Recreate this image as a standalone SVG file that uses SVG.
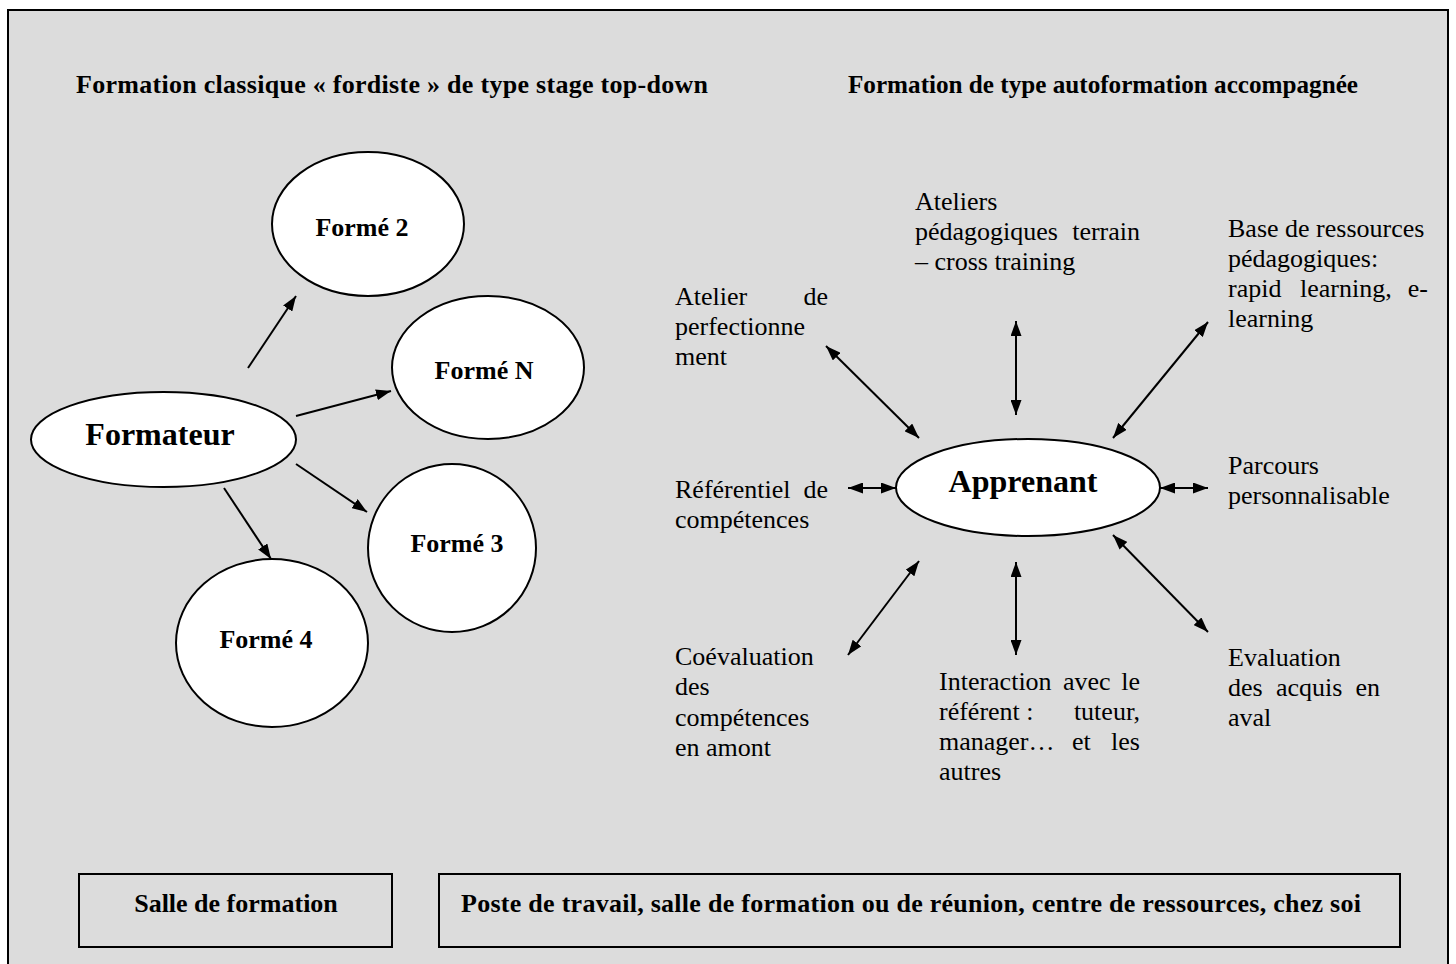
<svg xmlns="http://www.w3.org/2000/svg" width="1456" height="964" viewBox="0 0 1456 964">
<defs>
<style>
.t{font-family:"Liberation Serif","Times New Roman",serif;font-size:26px;fill:#000}
.b{font-family:"Liberation Serif","Times New Roman",serif;font-size:26px;font-weight:bold;fill:#000}
.big{font-family:"Liberation Serif","Times New Roman",serif;font-size:32px;font-weight:bold;fill:#000}
.node{fill:#fff;stroke:#000;stroke-width:2}
.box{fill:none;stroke:#000;stroke-width:2}
.c{stroke:#000;stroke-width:2;fill:none}
.e{marker-end:url(#ah)}
.d{marker-start:url(#ah);marker-end:url(#ah)}
</style>
<marker id="ah" viewBox="0 0 15 11" refX="15" refY="5.5" markerWidth="15" markerHeight="11" markerUnits="userSpaceOnUse" orient="auto-start-reverse">
<path d="M0,0 L15,5.5 L0,11 z" fill="#000"/>
</marker>
</defs>
<rect x="8" y="10" width="1440" height="970" fill="#dcdcdc" stroke="#000" stroke-width="2"/>

<g id="headers">
<text class="b" x="76" y="93" textLength="632" lengthAdjust="spacing">Formation classique « fordiste » de type stage top-down</text>
<text class="b" x="848" y="93" textLength="510" lengthAdjust="spacingAndGlyphs">Formation de type autoformation accompagnée</text>
</g>

<g id="connectors">
<line class="c e" x1="248" y1="368" x2="296" y2="296"/>
<line class="c e" x1="296" y1="416" x2="391" y2="391"/>
<line class="c e" x1="296" y1="464" x2="367" y2="512"/>
<line class="c e" x1="224" y1="488" x2="271" y2="559"/>
<line class="c d" x1="826" y1="346" x2="919" y2="438"/>
<line class="c d" x1="1016" y1="321" x2="1016" y2="415"/>
<line class="c d" x1="1208" y1="322" x2="1113" y2="438"/>
<line class="c d" x1="848" y1="488" x2="896" y2="488"/>
<line class="c d" x1="1160" y1="488" x2="1208" y2="488"/>
<line class="c d" x1="1113" y1="535" x2="1208" y2="632"/>
<line class="c d" x1="1016" y1="562" x2="1016" y2="655"/>
<line class="c d" x1="919" y1="561" x2="848" y2="655"/>
</g>

<g id="forme2"><ellipse class="node" cx="368" cy="224" rx="96" ry="72"/><text class="b" x="362" y="236" text-anchor="middle">Formé 2</text></g>
<g id="formeN"><ellipse class="node" cx="488" cy="367.5" rx="96" ry="71.5"/><text class="b" x="484" y="379" text-anchor="middle">Formé N</text></g>
<g id="formateur"><ellipse class="node" cx="163.5" cy="439.5" rx="132.5" ry="47.5"/><text class="big" x="160" y="445" text-anchor="middle">Formateur</text></g>
<g id="forme3"><ellipse class="node" cx="452" cy="548" rx="84" ry="84"/><text class="b" x="457" y="552" text-anchor="middle">Formé 3</text></g>
<g id="forme4"><ellipse class="node" cx="272" cy="643" rx="96" ry="84"/><text class="b" x="266" y="648" text-anchor="middle">Formé 4</text></g>

<g id="apprenant"><ellipse class="node" cx="1028" cy="487.5" rx="132" ry="48.5"/><text class="big" x="1023" y="492" text-anchor="middle">Apprenant</text></g>

<g id="ateliers">
<text class="t" x="915" y="210">Ateliers</text>
<text class="t" x="915" y="240">pédagogiques</text><text class="t" x="1140" y="240" text-anchor="end">terrain</text>
<text class="t" x="915" y="270">– cross training</text>
</g>
<g id="base">
<text class="t" x="1228" y="237">Base de ressources</text>
<text class="t" x="1228" y="267">pédagogiques:</text>
<text class="t" x="1228" y="297">rapid</text><text class="t" x="1300" y="297">learning,</text><text class="t" x="1428" y="297" text-anchor="end">e-</text>
<text class="t" x="1228" y="327">learning</text>
</g>
<g id="atelier-perf">
<text class="t" x="675" y="305">Atelier</text><text class="t" x="828" y="305" text-anchor="end">de</text>
<text class="t" x="675" y="335">perfectionne</text>
<text class="t" x="675" y="365">ment</text>
</g>
<g id="referentiel">
<text class="t" x="675" y="498">Référentiel</text><text class="t" x="828" y="498" text-anchor="end">de</text>
<text class="t" x="675" y="528">compétences</text>
</g>
<g id="parcours">
<text class="t" x="1228" y="474">Parcours</text>
<text class="t" x="1228" y="504">personnalisable</text>
</g>
<g id="coevaluation">
<text class="t" x="675" y="665">Coévaluation</text>
<text class="t" x="675" y="695">des</text>
<text class="t" x="675" y="726">compétences</text>
<text class="t" x="675" y="756">en amont</text>
</g>
<g id="interaction">
<text class="t" x="939" y="690">Interaction</text><text class="t" x="1063" y="690">avec</text><text class="t" x="1140" y="690" text-anchor="end">le</text>
<text class="t" x="939" y="720">référent :</text><text class="t" x="1140" y="720" text-anchor="end">tuteur,</text>
<text class="t" x="939" y="750">manager…</text><text class="t" x="1072" y="750">et</text><text class="t" x="1140" y="750" text-anchor="end">les</text>
<text class="t" x="939" y="780">autres</text>
</g>
<g id="evaluation">
<text class="t" x="1228" y="666">Evaluation</text>
<text class="t" x="1228" y="696">des</text><text class="t" x="1276" y="696">acquis</text><text class="t" x="1380" y="696" text-anchor="end">en</text>
<text class="t" x="1228" y="726">aval</text>
</g>

<g id="salle">
<rect class="box" x="79" y="874" width="313" height="73"/>
<text class="b" x="236" y="912" text-anchor="middle">Salle de formation</text>
</g>
<g id="poste">
<rect class="box" x="439" y="874" width="961" height="73"/>
<text class="b" x="461" y="912" textLength="900" lengthAdjust="spacing">Poste de travail, salle de formation ou de réunion, centre de ressources, chez soi</text>
</g>
</svg>
